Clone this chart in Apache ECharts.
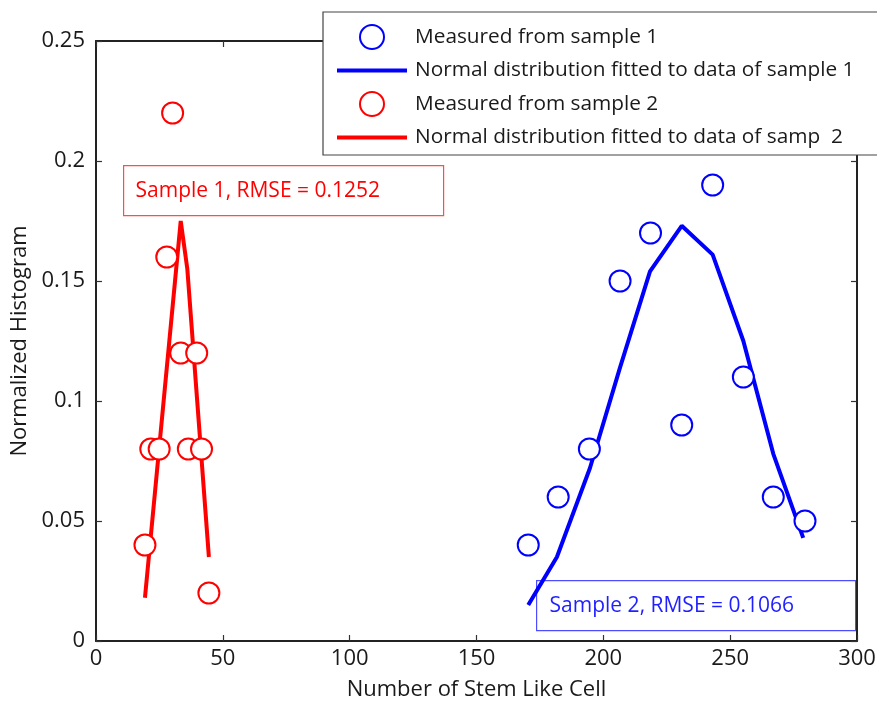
<!DOCTYPE html>
<html>
<head>
<meta charset="utf-8">
<script src="https://cdn.jsdelivr.net/npm/echarts@6/dist/echarts.min.js"></script>
<style>
    html, body { margin: 0; padding: 0; background: #fff; }
    #chart { width: 877px; height: 701px; }
</style>
</head>
<body>
<div id="chart"></div>
<script>
    // sample 1 (blue) - measured bins and fitted normal curve
    var s1X = [170.4, 182.2, 194.5, 206.6, 218.6, 230.9, 243.1, 255.2, 267.0, 279.5];
    var s1Measured = [0.04, 0.06, 0.08, 0.15, 0.17, 0.09, 0.19, 0.11, 0.06, 0.05];
    var s1FitX = [170.4, 181.7, 194.7, 206.6, 218.4, 230.9, 243.1, 255.2, 267.0, 278.8];
    var s1Fit = [0.015, 0.035, 0.072, 0.114, 0.154, 0.173, 0.161, 0.125, 0.078, 0.043];

    // sample 2 (red)
    var s2X = [19.3, 21.6, 24.9, 27.9, 30.2, 33.4, 36.4, 39.7, 41.6, 44.5];
    var s2Measured = [0.04, 0.08, 0.08, 0.16, 0.22, 0.12, 0.08, 0.12, 0.08, 0.02];
    var s2FitX = [19.3, 33.4, 36.0, 44.5];
    var s2Fit = [0.018, 0.175, 0.155, 0.035];

    var xTicks = [0, 50, 100, 150, 200, 250, 300];
    var yTicks = [0, 0.05, 0.1, 0.15, 0.2, 0.25];

    var names = [
        'Measured from sample 1',
        'Normal distribution fitted to data of sample 1',
        'Measured from sample 2',
        'Normal distribution fitted to data of samp  2'
    ];
    var rmseText = ['Sample 1, RMSE = 0.1252', 'Sample 2, RMSE = 0.1066'];

    function pairs(xs, ys) {
        var out = [];
        for (var i = 0; i < xs.length; i++) out.push([xs[i], ys[i]]);
        return out;
    }

    var FONT = 'Open Sans';
    var BLUE = '#0000ff', RED = '#ff0000';
    var LINE_ICON = 'path://M0,0L70,0L70,4L0,4Z';

    var myChart = echarts.init(document.getElementById('chart'));

    var axisLine = { show: true, onZero: false, lineStyle: { color: '#222', width: 2 } };
    var axisTick = { show: true, inside: true, length: 6, lineStyle: { color: '#333', width: 1.2 } };
    var label = { color: '#1a1a1a', fontSize: 22, fontFamily: FONT, margin: 11 };

    var option = {
        animation: false,
        backgroundColor: '#fff',
        grid: { left: 96, right: 20, top: 41, bottom: 60, outerBoundsMode: 'none', containLabel: false },
        xAxis: [{
            type: 'value', min: xTicks[0], max: xTicks[xTicks.length - 1], interval: 50,
            name: 'Number of Stem Like Cell', nameLocation: 'middle', nameGap: 38,
            nameTextStyle: { color: '#1a1a1a', fontSize: 22, fontFamily: FONT },
            axisLine: axisLine, axisTick: axisTick,
            axisLabel: { color: '#1a1a1a', fontSize: 22, fontFamily: FONT, margin: 7 },
            splitLine: { show: false }
        }, {
            type: 'value', position: 'top', min: 0, max: 300, interval: 50,
            axisLine: axisLine, axisTick: axisTick, axisLabel: { show: false }, splitLine: { show: false }
        }],
        yAxis: [{
            type: 'value', min: yTicks[0], max: yTicks[yTicks.length - 1], interval: 0.05,
            name: 'Normalized Histogram', nameLocation: 'middle', nameGap: 65,
            nameTextStyle: { color: '#1a1a1a', fontSize: 22, fontFamily: FONT },
            axisLine: axisLine, axisTick: axisTick, axisLabel: label, splitLine: { show: false }
        }, {
            type: 'value', position: 'right', min: 0, max: 0.25, interval: 0.05,
            axisLine: axisLine, axisTick: axisTick, axisLabel: { show: false }, splitLine: { show: false }
        }],
        legend: {
            orient: 'vertical', left: 323, top: 12,
            padding: [12, 40, 7, 14],
            itemWidth: 70, itemHeight: 24, itemGap: 10,
            backgroundColor: '#fff', borderColor: '#444', borderWidth: 1.2,
            textStyle: { color: '#1a1a1a', fontSize: 20.8, fontFamily: FONT, padding: [0, 0, 0, 3] },
            data: [
                { name: names[0] },
                { name: names[1], icon: LINE_ICON },
                { name: names[2] },
                { name: names[3], icon: LINE_ICON }
            ]
        },
        series: [{
            name: names[0], type: 'scatter', data: pairs(s1X, s1Measured),
            symbol: 'emptyCircle', symbolSize: 21,
            itemStyle: { color: BLUE, borderColor: BLUE, borderWidth: 3.5, opacity: 1 }, z: 3
        }, {
            name: names[1], type: 'line', data: pairs(s1FitX, s1Fit),
            symbol: 'none', lineStyle: { color: BLUE, width: 4 }, itemStyle: { color: BLUE }, z: 2
        }, {
            name: names[2], type: 'scatter', data: pairs(s2X, s2Measured),
            symbol: 'emptyCircle', symbolSize: 21,
            itemStyle: { color: RED, borderColor: RED, borderWidth: 3.5, opacity: 1 }, z: 3
        }, {
            name: names[3], type: 'line', data: pairs(s2FitX, s2Fit),
            symbol: 'none', lineStyle: { color: RED, width: 4 }, itemStyle: { color: RED }, z: 2
        }],
        graphic: [{
            type: 'group', left: 123, top: 165, z: 10,
            children: [{
                type: 'rect', shape: { x: 0, y: 0, width: 320, height: 50 },
                style: { fill: '#fff', stroke: '#ff4d4d', lineWidth: 1.2 }
            }, {
                type: 'text', x: 12, y: 25,
                style: { text: rmseText[0], fill: RED, fontSize: 21, fontFamily: FONT, verticalAlign: 'middle' }
            }]
        }, {
            type: 'group', left: 536, top: 580, z: 10,
            children: [{
                type: 'rect', shape: { x: 0, y: 0, width: 319, height: 50 },
                style: { fill: '#fff', stroke: '#4d4dff', lineWidth: 1.2 }
            }, {
                type: 'text', x: 13, y: 25,
                style: { text: rmseText[1], fill: '#1f1fff', fontSize: 21, fontFamily: FONT, verticalAlign: 'middle' }
            }]
        }]
    };

    myChart.setOption(option);
</script>
</body>
</html>
